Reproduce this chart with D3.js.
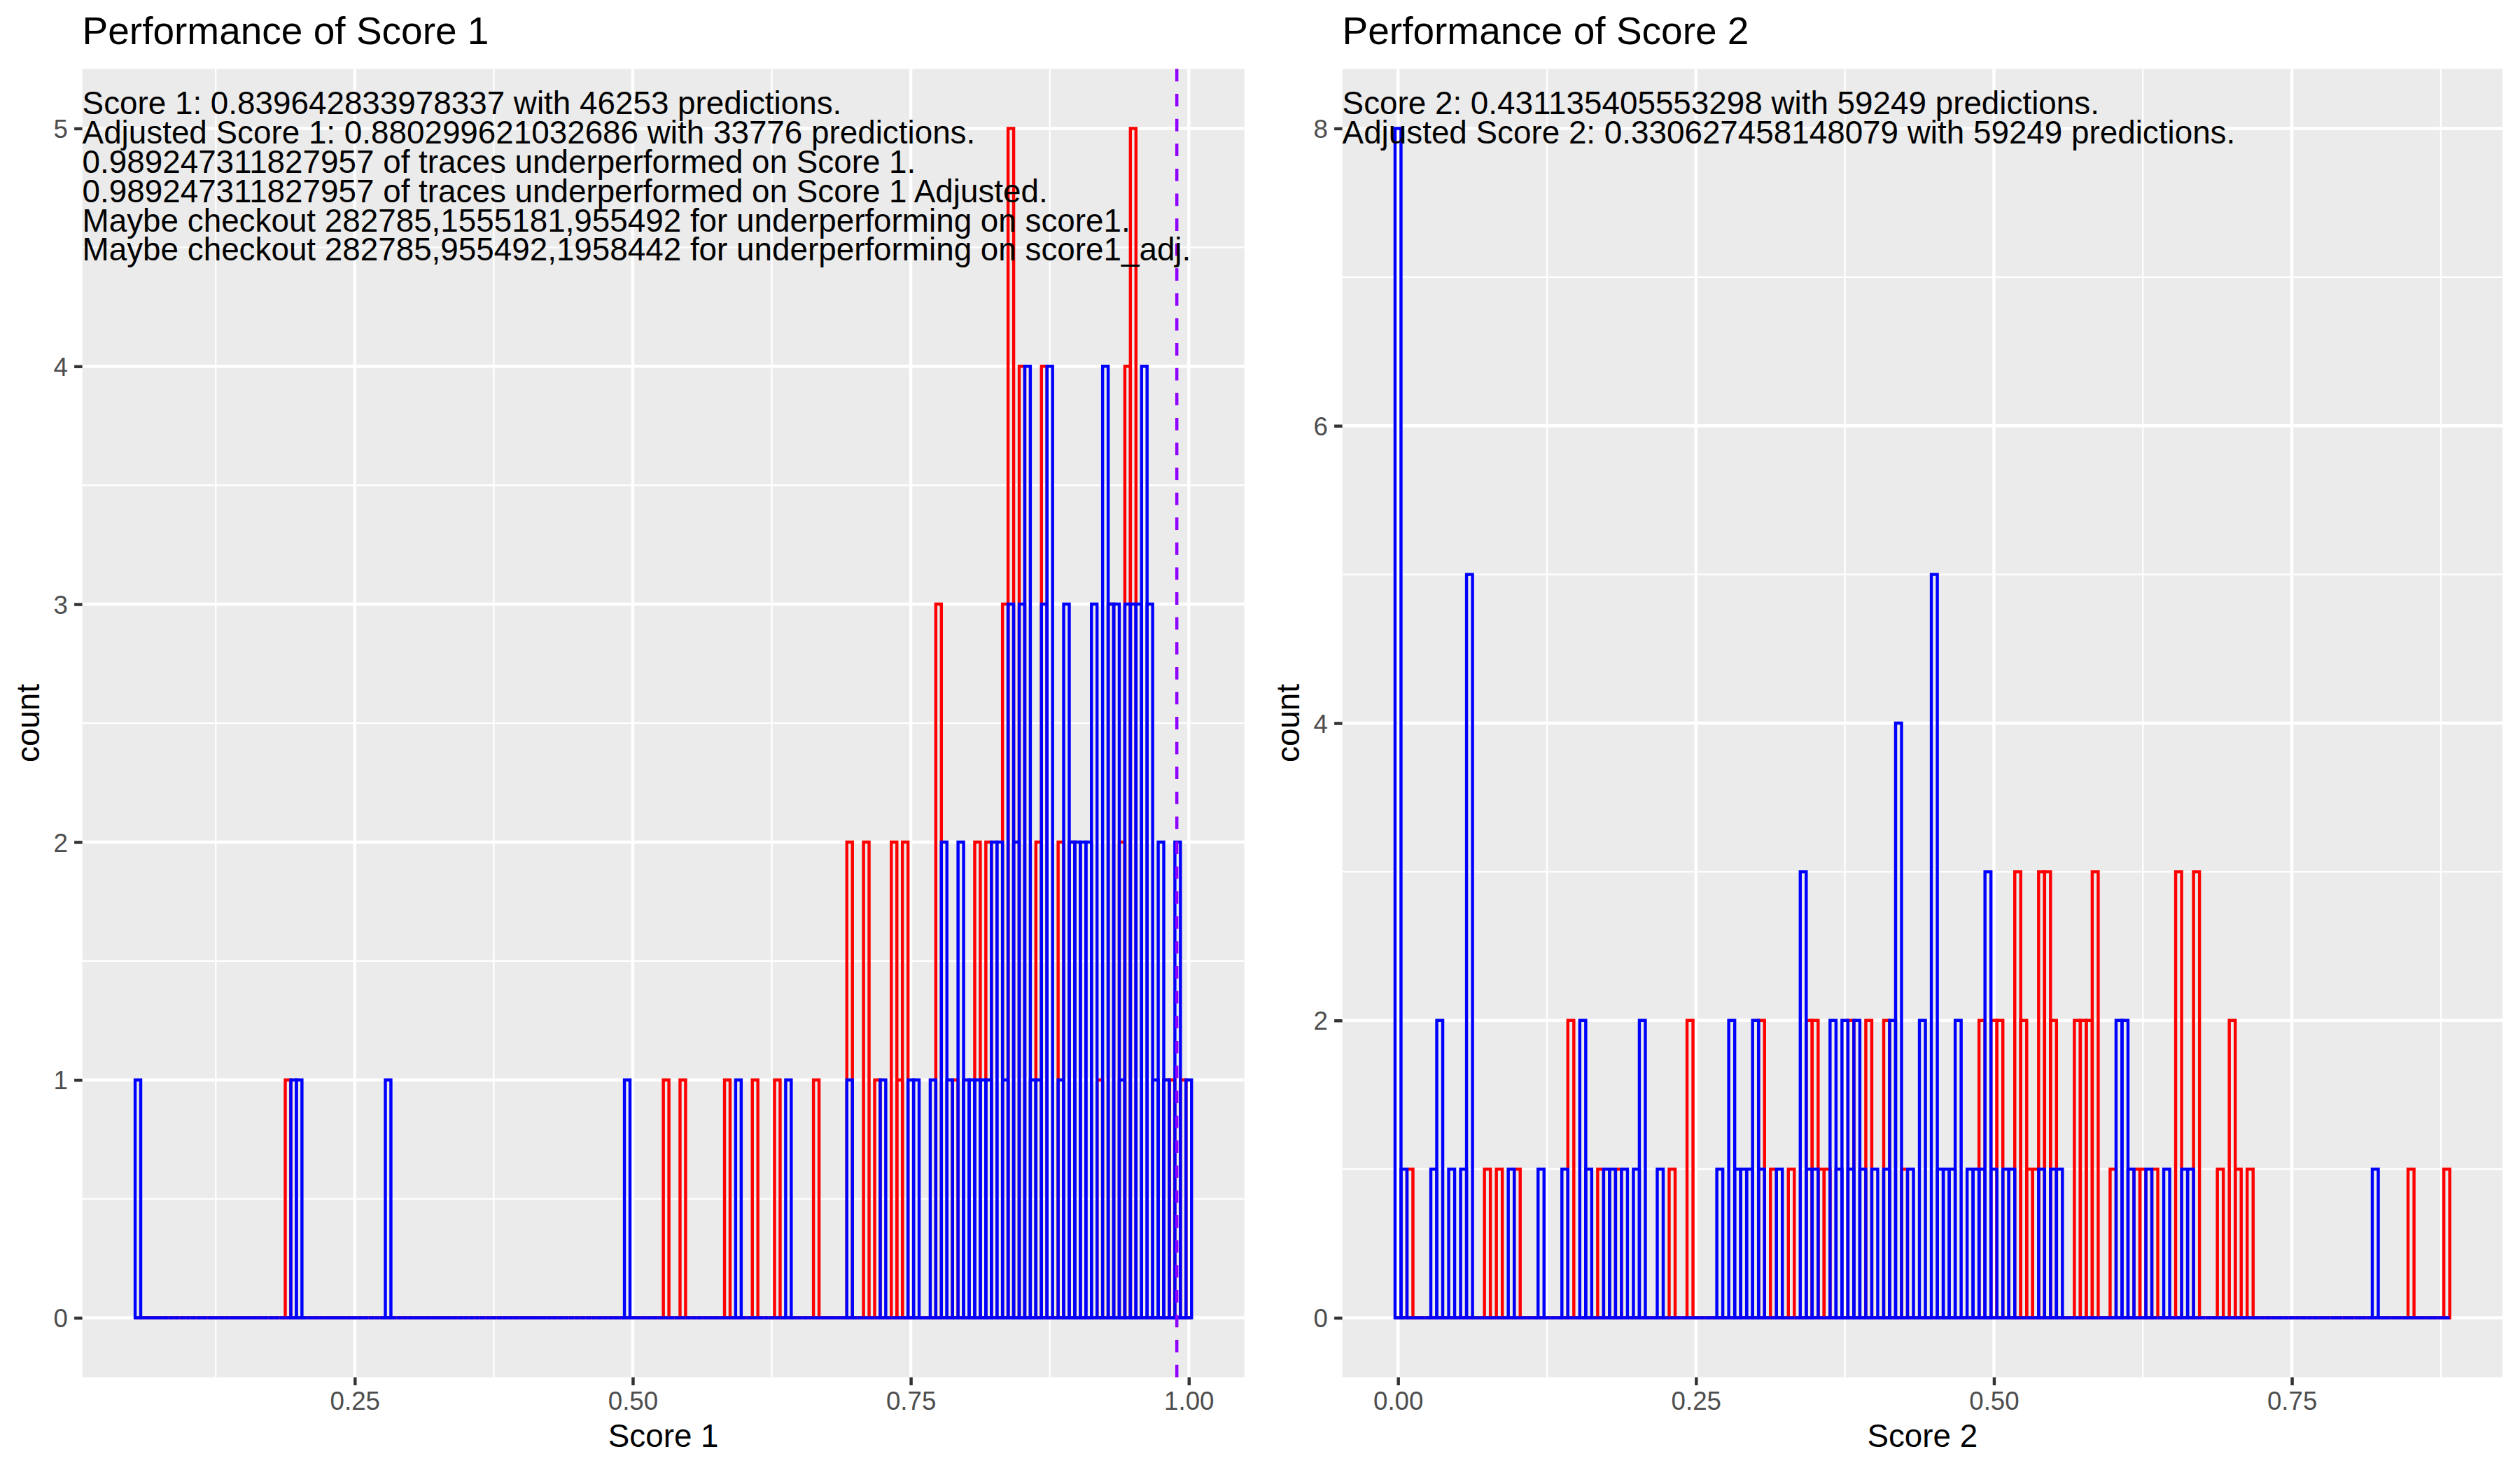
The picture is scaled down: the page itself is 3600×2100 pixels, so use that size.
<!DOCTYPE html>
<html>
<head>
<meta charset="utf-8">
<script src="https://cdn.jsdelivr.net/npm/d3@7"></script>
<style>
  body { margin: 0; background: #fff; }
  svg { display: block; }
  text { font-family: "Liberation Sans", Arial, Helvetica, sans-serif; }
</style>
</head>
<body>
<div id="viz"></div>
<script>
var binWidth = 0.005;

// Score 1: first and last bin centre, then the non-empty bins as [centre, count]
var score1Range = [0.055, 1.0];
var score1Counts = [
  [0.19, 1], [0.53, 1], [0.545, 1], [0.585, 1], [0.61, 1], [0.63, 1], [0.665, 1],
  [0.695, 2], [0.71, 2], [0.72, 1], [0.735, 2], [0.74, 1], [0.745, 2], [0.775, 3],
  [0.79, 1], [0.81, 2], [0.82, 2], [0.835, 3], [0.84, 5], [0.85, 4], [0.865, 2],
  [0.87, 4], [0.885, 2], [0.895, 2], [0.92, 1], [0.93, 3], [0.94, 2], [0.945, 4],
  [0.95, 5], [0.98, 1], [0.985, 1], [0.995, 1]
];
var score1AdjCounts = [
  [0.055, 1], [0.195, 1], [0.2, 1], [0.28, 1], [0.495, 1], [0.595, 1], [0.64, 1],
  [0.695, 1], [0.725, 1], [0.75, 1], [0.755, 1], [0.77, 1], [0.78, 2], [0.785, 1],
  [0.795, 2], [0.8, 1], [0.805, 1], [0.81, 1], [0.815, 1], [0.82, 1], [0.825, 2],
  [0.83, 2], [0.835, 1], [0.84, 3], [0.845, 2], [0.85, 3], [0.855, 4], [0.86, 1],
  [0.865, 1], [0.87, 3], [0.875, 4], [0.885, 1], [0.89, 3], [0.895, 2], [0.9, 2],
  [0.905, 2], [0.91, 2], [0.915, 3], [0.925, 4], [0.93, 3], [0.935, 3], [0.94, 1],
  [0.945, 3], [0.95, 3], [0.955, 3], [0.96, 4], [0.965, 3], [0.97, 1], [0.975, 2],
  [0.98, 1], [0.99, 2], [1.0, 1]
];
var score1Cutoff = 0.989247311827957;
var score1XTicks = [0.25, 0.5, 0.75, 1.0];
var score1YTicks = [0, 1, 2, 3, 4, 5];
var score1Notes = [
  'Score 1: 0.839642833978337 with 46253 predictions.',
  'Adjusted Score 1: 0.880299621032686 with 33776 predictions.',
  '0.989247311827957 of traces underperformed on Score 1.',
  '0.989247311827957 of traces underperformed on Score 1 Adjusted.',
  'Maybe checkout 282785,1555181,955492 for underperforming on score1.',
  'Maybe checkout 282785,955492,1958442 for underperforming on score1_adj.'
];

// Score 2
var score2Range = [0.0, 0.88];
var score2Counts = [
  [0.01, 1], [0.075, 1], [0.085, 1], [0.1, 1], [0.145, 2], [0.17, 1], [0.185, 1],
  [0.23, 1], [0.245, 2], [0.305, 2], [0.315, 1], [0.33, 1], [0.345, 2], [0.35, 2],
  [0.355, 1], [0.36, 1], [0.38, 2], [0.395, 2], [0.41, 2], [0.425, 1], [0.49, 2],
  [0.5, 2], [0.505, 2], [0.52, 3], [0.525, 2], [0.53, 1], [0.535, 1], [0.54, 3],
  [0.545, 3], [0.55, 2], [0.57, 2], [0.575, 2], [0.58, 2], [0.585, 3], [0.6, 1],
  [0.62, 1], [0.625, 1], [0.635, 1], [0.655, 3], [0.67, 3], [0.69, 1], [0.7, 2],
  [0.705, 1], [0.715, 1], [0.85, 1], [0.88, 1]
];
var score2AdjCounts = [
  [0, 8], [0.005, 1], [0.03, 1], [0.035, 2], [0.045, 1], [0.055, 1], [0.06, 5],
  [0.095, 1], [0.12, 1], [0.14, 1], [0.155, 2], [0.16, 1], [0.175, 1], [0.18, 1],
  [0.19, 1], [0.2, 1], [0.205, 2], [0.22, 1], [0.27, 1], [0.28, 2], [0.285, 1],
  [0.29, 1], [0.295, 1], [0.3, 2], [0.305, 1], [0.32, 1], [0.34, 3], [0.345, 1],
  [0.35, 1], [0.365, 2], [0.37, 1], [0.375, 2], [0.38, 1], [0.385, 2], [0.39, 1],
  [0.4, 1], [0.41, 1], [0.415, 2], [0.42, 4], [0.43, 1], [0.44, 2], [0.45, 5],
  [0.455, 1], [0.46, 1], [0.465, 1], [0.47, 2], [0.48, 1], [0.485, 1], [0.49, 1],
  [0.495, 3], [0.5, 1], [0.51, 1], [0.515, 1], [0.54, 1], [0.55, 1], [0.555, 1],
  [0.605, 2], [0.61, 2], [0.615, 1], [0.63, 1], [0.645, 1], [0.66, 1], [0.665, 1],
  [0.82, 1]
];
var score2XTicks = [0, 0.25, 0.5, 0.75];
var score2YTicks = [0, 2, 4, 6, 8];
var score2Notes = [
  'Score 2: 0.431135405553298 with 59249 predictions.',
  'Adjusted Score 2: 0.330627458148079 with 59249 predictions.'
];

var width = 3600,
    height = 2100,
    panelTop = 98.5,
    panelBottom = 1967.5,
    lineW = 4.44,
    baseSize = 45.8;

var panels = [
  {left: 117.6, right: 1777.7, title: 'Performance of Score 1', xTitle: 'Score 1',
   range: score1Range, red: score1Counts, blue: score1AdjCounts, cutoff: score1Cutoff,
   xTicks: score1XTicks, yTicks: score1YTicks, notes: score1Notes},
  {left: 1917.6, right: 3575, title: 'Performance of Score 2', xTitle: 'Score 2',
   range: score2Range, red: score2Counts, blue: score2AdjCounts, cutoff: null,
   xTicks: score2XTicks, yTicks: score2YTicks, notes: score2Notes}
];

var svg = d3.select('#viz').append('svg')
    .attr('width', width)
    .attr('height', height)
    .style('background', '#ffffff');

function fullBins(range, pairs) {
  var first = Math.round(range[0] / binWidth),
      n = Math.round(range[1] / binWidth) - first + 1;
  var lookup = new Map(pairs.map(function(p) { return [Math.round(p[0] / binWidth), p[1]]; }));
  return d3.range(n).map(function(i) {
    var c = (first + i) * binWidth;
    return {x0: c - binWidth / 2, x1: c + binWidth / 2, count: lookup.get(first + i) || 0};
  });
}

// ggplot style: 5% padding each side of the data range
function expand(lo, hi) {
  var pad = (hi - lo) * 0.05;
  return [lo - pad, hi + pad];
}

// minor breaks half way between the major ones
function minorBreaks(ticks, domain) {
  var step = ticks[1] - ticks[0];
  var out = [];
  for (var i = -1; i < ticks.length; i++) {
    var m = ticks[0] + (i + 0.5) * step;
    if (m > domain[0] && m < domain[1]) out.push(m);
  }
  return out;
}

panels.forEach(function(p) {
  var redBins = fullBins(p.range, p.red),
      blueBins = fullBins(p.range, p.blue);
  var maxCount = d3.max(redBins.concat(blueBins), function(d) { return d.count; });

  var x = d3.scaleLinear()
      .domain(expand(redBins[0].x0, redBins[redBins.length - 1].x1))
      .range([p.left, p.right]);
  var y = d3.scaleLinear()
      .domain(expand(0, maxCount))
      .range([panelBottom, panelTop]);

  var g = svg.append('g');

  g.append('rect')
      .attr('x', p.left)
      .attr('y', panelTop)
      .attr('width', p.right - p.left)
      .attr('height', panelBottom - panelTop)
      .style('fill', '#EBEBEB');

  var grid = g.append('g').style('stroke', '#ffffff');
  grid.selectAll('.xminor').data(minorBreaks(p.xTicks, x.domain()))
    .enter().append('line')
      .attr('x1', function(d) { return x(d); })
      .attr('x2', function(d) { return x(d); })
      .attr('y1', panelTop).attr('y2', panelBottom)
      .style('stroke-width', lineW / 2);
  grid.selectAll('.yminor').data(minorBreaks(p.yTicks, y.domain()))
    .enter().append('line')
      .attr('y1', function(d) { return y(d); })
      .attr('y2', function(d) { return y(d); })
      .attr('x1', p.left).attr('x2', p.right)
      .style('stroke-width', lineW / 2);
  grid.selectAll('.xmajor').data(p.xTicks)
    .enter().append('line')
      .attr('x1', function(d) { return x(d); })
      .attr('x2', function(d) { return x(d); })
      .attr('y1', panelTop).attr('y2', panelBottom)
      .style('stroke-width', lineW);
  grid.selectAll('.ymajor').data(p.yTicks)
    .enter().append('line')
      .attr('y1', function(d) { return y(d); })
      .attr('y2', function(d) { return y(d); })
      .attr('x1', p.left).attr('x2', p.right)
      .style('stroke-width', lineW);

  function binPath(d) {
    var x0 = x(d.x0), x1 = x(d.x1), y0 = y(0), y1 = y(d.count);
    return 'M' + x0 + ',' + y0 + 'V' + y1 + 'H' + x1 + 'V' + y0 + 'Z';
  }

  [[redBins, '#FF0000'], [blueBins, '#0000FF']].forEach(function(s) {
    g.append('g').selectAll('path').data(s[0])
      .enter().append('path')
        .attr('d', binPath)
        .style('fill', 'none')
        .style('stroke', s[1])
        .style('stroke-width', lineW)
        .style('stroke-linejoin', 'miter');
  });

  if (p.cutoff !== null) {
    g.append('line')
        .attr('x1', x(p.cutoff)).attr('x2', x(p.cutoff))
        .attr('y1', panelTop).attr('y2', panelBottom)
        .style('stroke', '#8F00FF')
        .style('stroke-width', lineW)
        .style('stroke-dasharray', '17.8,17.8');
  }

  g.append('g').selectAll('text').data(p.notes)
    .enter().append('text')
      .attr('x', p.left)
      .attr('y', function(d, i) { return 163.3 + i * 41.8; })
      .style('font-size', baseSize + 'px')
      .style('fill', '#000000')
      .text(function(d) { return d; });

  var xAxis = g.append('g')
      .attr('transform', 'translate(0,' + panelBottom + ')')
      .call(d3.axisBottom(x).tickValues(p.xTicks).tickFormat(d3.format('.2f'))
        .tickSize(11.5).tickPadding(9.2));
  var yAxis = g.append('g')
      .attr('transform', 'translate(' + p.left + ',0)')
      .call(d3.axisLeft(y).tickValues(p.yTicks).tickFormat(d3.format('d'))
        .tickSize(11.5).tickPadding(9.2));

  [xAxis, yAxis].forEach(function(a) {
    a.attr('font-family', null).attr('font-size', null);
    a.select('.domain').remove();
    a.selectAll('.tick line').style('stroke', '#333333').style('stroke-width', lineW);
    a.selectAll('.tick text').style('fill', '#4D4D4D').style('font-size', '36.7px');
  });
  yAxis.selectAll('.tick text').attr('dy', '0.36em');

  g.append('text')
      .attr('x', p.left)
      .attr('y', 63.3)
      .style('font-size', '55px')
      .style('fill', '#000000')
      .text(p.title);

  g.append('text')
      .attr('x', (p.left + p.right) / 2)
      .attr('y', 2066.6)
      .attr('text-anchor', 'middle')
      .style('font-size', baseSize + 'px')
      .text(p.xTitle);

  g.append('text')
      .attr('transform', 'translate(' + (p.left - 61.9) + ',' + ((panelTop + panelBottom) / 2) + ') rotate(-90)')
      .attr('text-anchor', 'middle')
      .style('font-size', baseSize + 'px')
      .text('count');
});
</script>
</body>
</html>
